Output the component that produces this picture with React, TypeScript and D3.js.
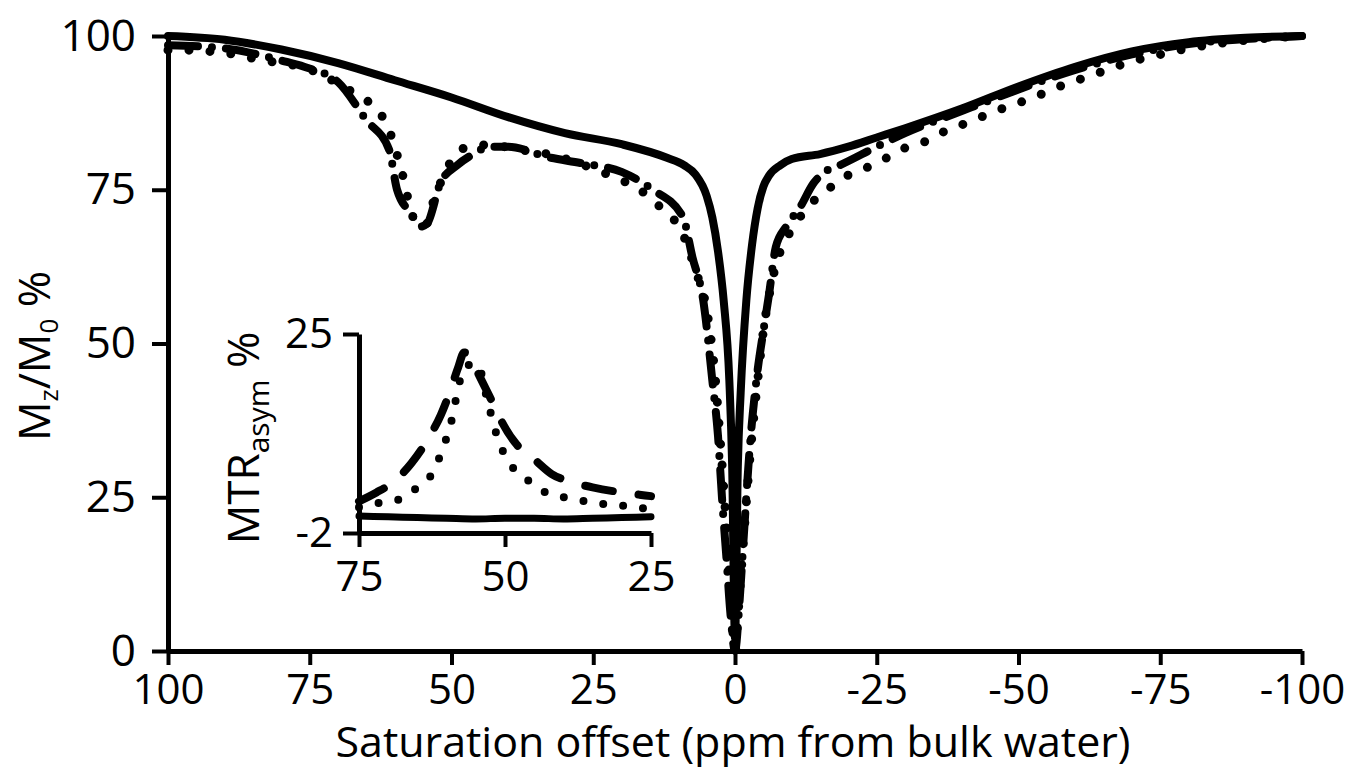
import React, { useEffect, useRef } from 'react';
import * as d3 from 'd3';

// main panel: saturation offset (ppm) vs Mz/M0 (%)
const solidOffsets = [100, 90, 80, 70, 60, 50, 40, 30, 20, 12, 9, 7, 5, 4, 3, 2, 1, 0.5, 0, -0.5, -1, -2, -3, -4, -5, -6, -8, -10, -15, -20, -25, -30, -40, -50, -60, -70, -80, -90, -100];
const solidValues = [100, 99.4, 97.8, 95.6, 92.8, 90, 86.8, 84.2, 82.4, 80.2, 79, 77.5, 74, 70.5, 65, 57, 44, 30, 2, 30, 42, 57, 66, 72, 75.5, 77.3, 79, 80, 80.8, 82, 83.5, 85, 88.2, 91.8, 95, 97.5, 99, 99.7, 100];

const dashOffsets = [100, 90, 80, 76, 70, 65, 61, 59.6, 57, 55.5, 54.3, 52, 49, 46.7, 43, 40, 33, 27, 20, 14.5, 9.2, 7.5, 5.6, 4, 3, 2.3, 1.5, 0.8, 0, -0.8, -1.5, -2.6, -3.9, -5, -6, -7.2, -9, -11.5, -13.8, -16, -18.5, -25, -30, -40, -50, -60, -70, -80, -90, -100];
const dashValues = [98.5, 98, 96, 95, 92.5, 86.3, 81.5, 75, 71, 69, 69.5, 76, 79, 80.5, 82, 82, 80.3, 79.3, 77.9, 75, 70.6, 64, 57, 44, 35, 25, 15, 6, 0, 8, 18, 33, 45, 52, 58, 65.7, 69, 72.2, 76, 78, 79, 82, 84.2, 87.8, 91.3, 94.5, 97, 98.7, 99.5, 100];

const dotOffsets = [100, 95.6, 91.7, 87.6, 83.8, 80, 75.8, 72, 69.7, 65.6, 62.6, 60.8, 59.6, 58.5, 56.8, 54.7, 53.3, 50.3, 47.1, 43.2, 38, 32, 28.2, 21.2, 17.3, 13, 9.3, 7, 4.9, 3.5, 2.5, 1.5, 0.7, 0, -0.7, -1.5, -2.5, -4, -5, -6.5, -8, -10, -11.5, -14, -17, -20, -23.5, -27, -30, -34, -37.4, -41, -44.4, -48, -51.5, -55, -58.6, -62, -65.6, -69, -75, -80, -90, -100];
const dotValues = [97.7, 97.7, 97.4, 96.9, 96.1, 95.6, 94.8, 93.3, 92, 89.9, 87.5, 84.2, 80.7, 77, 70.6, 69, 72.8, 79.3, 82, 82.3, 81.5, 80.6, 79.5, 77, 75.3, 72, 68, 62, 55, 44.6, 33, 20, 8, 0, 8, 18, 30, 44, 52, 60, 65, 68.5, 70.6, 73.3, 75.5, 77.4, 78.7, 80.3, 81.8, 83, 84.7, 85.9, 87.2, 88.5, 89.6, 90.9, 92.3, 93.3, 94.5, 95.6, 97, 98, 99.3, 100];

// inset: MTRasym (%)
const insetSolidOffsets = [75, 70, 65, 60, 55, 50, 45, 40, 35, 30, 25];
const insetSolidValues = [0.3, 0.2, 0.1, 0, -0.1, 0, 0, -0.1, 0, 0.1, 0.2];
const insetDashOffsets = [75, 72, 69, 66, 63, 61, 59.5, 58, 57, 56, 54.5, 52, 50.5, 48, 45, 42, 39, 35, 30, 27, 25];
const insetDashValues = [2.3, 3.5, 5, 7.5, 11, 14, 17, 20.5, 22.5, 22, 19.5, 15.5, 13, 10, 8, 6, 5, 4.2, 3.5, 3.2, 3.0];
const insetDotOffsets = [75, 71.4, 67.6, 64.6, 62, 60.6, 59.4, 58.6, 57.8, 57, 54.8, 53, 51.7, 50.3, 48.3, 45.4, 42.3, 38.5, 35, 30.8, 27.2, 25];
const insetDotValues = [1.5, 2.1, 2.7, 4.5, 6.7, 9.7, 12.4, 15.4, 18.4, 20.5, 21, 16, 12, 9, 6.5, 4.8, 3.2, 2.7, 2.1, 1.8, 1.4, 1.3];

const mainXTicks = [100, 75, 50, 25, 0, -25, -50, -75, -100];
const mainYTicks = [0, 25, 50, 75, 100];
const insetXTicks = [75, 50, 25];
const insetYTicks = [-2, 25];

const FONT = '"Open Sans", sans-serif';

const zip = (xs: number[], ys: number[]) => xs.map((x, i) => [x, ys[i]] as [number, number]);

const App = () => {
  const svgRef = useRef<SVGSVGElement>(null);

  useEffect(() => {
    const svg = d3.select(svgRef.current);
    svg.selectAll('*').remove();

    const x = d3.scaleLinear().domain([100, -100]).range([168, 1302]);
    const y = d3.scaleLinear().domain([0, 100]).range([651, 36]);
    const ix = d3.scaleLinear().domain([75, 25]).range([359, 651]);
    const iy = d3.scaleLinear().domain([-2, 25]).range([533, 334]);

    const fmt = (d: any) => String(d);

    const styleAxis = (g: any, w: number, fs: number) => {
      g.select('.domain').attr('stroke', '#000').attr('stroke-width', w);
      g.selectAll('.tick line').attr('stroke', '#000').attr('stroke-width', w - 1);
      g.selectAll('.tick text').attr('fill', '#000').style('font-family', FONT).style('font-size', fs + 'px');
    };

    // main axes
    const gx = svg.append('g')
      .attr('transform', `translate(0, ${y(0)})`)
      .call(d3.axisBottom(x).tickValues(mainXTicks).tickSize(14).tickSizeOuter(0).tickPadding(9).tickFormat(fmt));
    styleAxis(gx, 5, 42);

    const gy = svg.append('g')
      .attr('transform', `translate(${x(100)}, 0)`)
      .call(d3.axisLeft(y).tickValues(mainYTicks).tickSize(16).tickSizeOuter(0).tickPadding(16).tickFormat(fmt));
    styleAxis(gy, 5, 44);

    const line = d3.line<[number, number]>()
      .x(d => x(d[0]))
      .y(d => y(d[1]))
      .curve(d3.curveMonotoneX);

    svg.append('path').datum(zip(solidOffsets, solidValues))
      .attr('d', line).attr('fill', 'none').attr('stroke', '#000')
      .attr('stroke-width', 8).attr('stroke-linecap', 'round');

    svg.append('path').datum(zip(dashOffsets, dashValues))
      .attr('d', line).attr('fill', 'none').attr('stroke', '#000')
      .attr('stroke-width', 8).attr('stroke-linecap', 'round')
      .attr('stroke-dasharray', '30,14,0,14');

    svg.append('path').datum(zip(dotOffsets, dotValues))
      .attr('d', line).attr('fill', 'none').attr('stroke', '#000')
      .attr('stroke-width', 9).attr('stroke-linecap', 'round')
      .attr('stroke-dasharray', '0,21');

    // inset
    const igx = svg.append('g')
      .attr('transform', `translate(0, ${iy(-2)})`)
      .call(d3.axisBottom(ix).tickValues(insetXTicks).tickSize(14).tickSizeOuter(0).tickPadding(14).tickFormat(fmt));
    styleAxis(igx, 5, 42);

    const igy = svg.append('g')
      .attr('transform', `translate(${ix(75)}, 0)`)
      .call(d3.axisLeft(iy).tickValues(insetYTicks).tickSize(16).tickSizeOuter(0).tickPadding(10).tickFormat(fmt));
    styleAxis(igy, 5, 42);

    const iline = d3.line<[number, number]>()
      .x(d => ix(d[0]))
      .y(d => iy(d[1]))
      .curve(d3.curveMonotoneX);

    svg.append('path').datum(zip(insetSolidOffsets, insetSolidValues))
      .attr('d', iline).attr('fill', 'none').attr('stroke', '#000')
      .attr('stroke-width', 7).attr('stroke-linecap', 'round');

    svg.append('path').datum(zip(insetDashOffsets, insetDashValues))
      .attr('d', iline).attr('fill', 'none').attr('stroke', '#000')
      .attr('stroke-width', 8).attr('stroke-linecap', 'round')
      .attr('stroke-dasharray', '28,26');

    svg.append('path').datum(zip(insetDotOffsets, insetDotValues))
      .attr('d', iline).attr('fill', 'none').attr('stroke', '#000')
      .attr('stroke-width', 8).attr('stroke-linecap', 'round')
      .attr('stroke-dasharray', '0,20');

    // axis titles
    svg.append('text')
      .attr('x', 733).attr('y', 757)
      .attr('text-anchor', 'middle')
      .style('font-family', FONT).style('font-size', '42px')
      .attr('textLength', 795).attr('lengthAdjust', 'spacingAndGlyphs')
      .text('Saturation offset (ppm from bulk water)');

    const yt = svg.append('text')
      .attr('transform', 'translate(50, 356) rotate(-90)')
      .attr('text-anchor', 'middle')
      .style('font-family', FONT).style('font-size', '44px');
    yt.append('tspan').text('M');
    yt.append('tspan').attr('dy', 8).style('font-size', '26px').text('z');
    yt.append('tspan').attr('dy', -8).text('/M');
    yt.append('tspan').attr('dy', 8).style('font-size', '26px').text('0');
    yt.append('tspan').attr('dy', -8).text(' %');

    const it = svg.append('text')
      .attr('transform', 'translate(259, 438) rotate(-90)')
      .attr('text-anchor', 'middle')
      .style('font-family', FONT).style('font-size', '44px');
    it.append('tspan').text('MTR');
    it.append('tspan').attr('dy', 10).style('font-size', '30px').text('asym');
    it.append('tspan').attr('dy', -10).text(' %');
  }, []);

  return (
    <svg ref={svgRef} width={1358} height={772}
      style={{ position: 'absolute', left: 0, top: 0, background: '#fff' }} />
  );
};

export default App;
